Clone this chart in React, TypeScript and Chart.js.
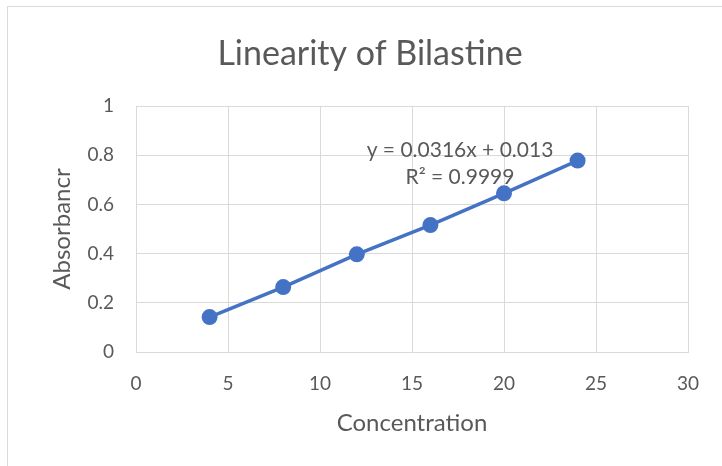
import React, { useEffect, useRef } from "react";
import { Chart, registerables } from "chart.js";

Chart.register(...registerables);

const concentrations = [4, 8, 12, 16, 20, 24];
const absorbance = [0.142, 0.264, 0.397, 0.516, 0.645, 0.778];
const chartTitle = "Linearity of Bilastine";
const xTitle = "Concentration";
const yTitle = "Absorbancr";
const equationLines = ["y = 0.0316x + 0.013", "R² = 0.9999"];

const BLUE = "#4472C4";
const GREY_TEXT = "#595959";
const GRID = "#d9d9d9";
const FONT = "Lato, 'Open Sans', sans-serif";

const textPlugin = {
  id: "excelText",
  afterDraw(chart: any) {
    const ctx = chart.ctx;
    ctx.save();
    ctx.fillStyle = GREY_TEXT;
    ctx.textAlign = "center";
    ctx.textBaseline = "middle";
    ctx.font = `34px ${FONT}`;
    ctx.fillText(chartTitle, 370, 54);
    ctx.font = `21px ${FONT}`;
    ctx.fillText(equationLines[0], 460, 150);
    ctx.fillText(equationLines[1], 460, 177);
    ctx.restore();
  },
};

const fmt = (v: any) => String(+Number(v).toFixed(2));

export default function App() {
  const canvasRef = useRef<HTMLCanvasElement | null>(null);

  useEffect(() => {
    const canvas = canvasRef.current;
    if (!canvas) return;
    const chart = new Chart(canvas, {
      type: "scatter",
      data: {
        datasets: [
          {
            data: concentrations.map((x, i) => ({ x, y: absorbance[i] })),
            showLine: true,
            borderColor: BLUE,
            backgroundColor: BLUE,
            borderWidth: 3.5,
            pointRadius: 8,
            pointHoverRadius: 8,
            pointBorderWidth: 0,
          },
        ],
      },
      options: {
        animation: false,
        responsive: false,
        layout: { padding: { top: 106, right: 34, left: 0, bottom: 0 } },
        plugins: {
          legend: { display: false },
          tooltip: { enabled: false },
          title: { display: false },
        },
        scales: {
          x: {
            type: "linear",
            min: 0,
            max: 30,
            ticks: {
              stepSize: 5,
              color: GREY_TEXT,
              font: { family: FONT, size: 19 },
              padding: 20,
              callback: fmt,
            },
            grid: { color: GRID, drawTicks: false, lineWidth: 1 },
            border: { display: true, color: GRID },
            title: {
              display: true,
              text: xTitle,
              color: GREY_TEXT,
              font: { family: FONT, size: 24 },
              padding: 28.6,
            },
            afterFit(scale: any) {
              scale.height = 114;
            },
          },
          y: {
            type: "linear",
            min: 0,
            max: 1,
            ticks: {
              stepSize: 0.2,
              color: GREY_TEXT,
              font: { family: FONT, size: 19 },
              padding: 22,
              callback: fmt,
            },
            grid: { color: GRID, drawTicks: false, lineWidth: 1 },
            border: { display: true, color: GRID },
            title: {
              display: true,
              text: yTitle,
              color: GREY_TEXT,
              font: { family: FONT, size: 24 },
              padding: 47.6,
            },
            afterFit(scale: any) {
              scale.width = 136;
            },
          },
        },
      },
      plugins: [textPlugin],
    });
    return () => chart.destroy();
  }, []);

  return (
    <div
      style={{
        position: "fixed",
        left: 0,
        top: 0,
        width: 722,
        height: 466,
        overflow: "hidden",
        background: "#ffffff",
      }}
    >
      <div
        style={{
          position: "absolute",
          left: 7,
          top: 6,
          width: 800,
          height: 600,
          border: "1px solid #d9d9d9",
          boxSizing: "border-box",
        }}
      />
      <canvas
        ref={canvasRef}
        width={722}
        height={466}
        style={{ position: "absolute", left: 0, top: 0, width: 722, height: 466 }}
      />
    </div>
  );
}
